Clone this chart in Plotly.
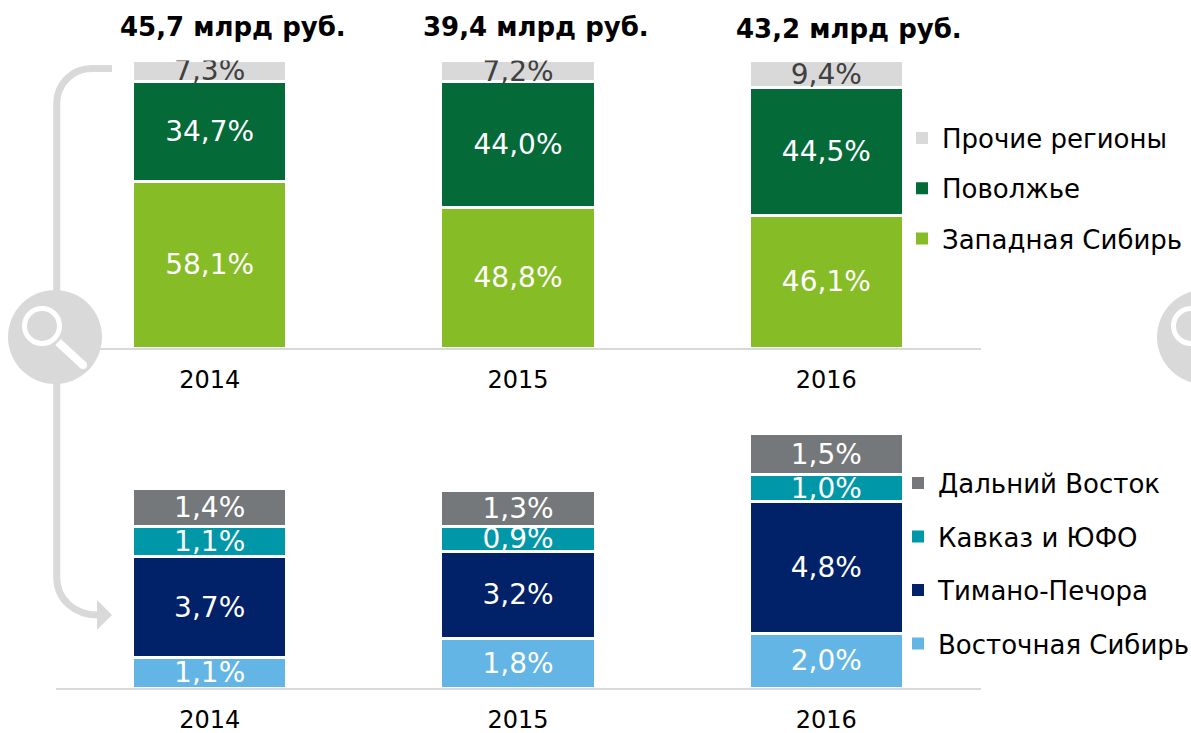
import plotly.graph_objects as go

W, H = 1191, 733
FONT = "DejaVu Sans"

years = ["2014", "2015", "2016"]
totals = ["45,7 млрд руб.", "39,4 млрд руб.", "43,2 млрд руб."]

west_siberia = [58.1, 48.8, 46.1]
volga = [34.7, 44.0, 44.5]
other_regions = [7.3, 7.2, 9.4]

east_siberia = [1.1, 1.8, 2.0]
timan_pechora = [3.7, 3.2, 4.8]
caucasus = [1.1, 0.9, 1.0]
far_east = [1.4, 1.3, 1.5]

LIGHT = "#d9d9d9"


def px(x):
    return x / W


def py(y):
    return 1 - y / H


fig = go.Figure()


def add_bar(name, values, color, yaxis, xaxis, legend, rank, textcolor="white"):
    fig.add_bar(
        x=years, y=values, name=name, xaxis=xaxis, yaxis=yaxis, legend=legend,
        legendgroup=name, showlegend=False,
        marker=dict(color=color, line=dict(color="white", width=3)),
        texttemplate="%{y:.1f}%", textposition="inside", insidetextanchor="middle",
        textangle=0, constraintext="none",
        textfont=dict(family=FONT, size=28, color=textcolor),
        hoverinfo="name+y",
    )
    # Legend entry without the white separator outline, so its swatch keeps full size
    fig.add_bar(
        x=years, y=[None] * len(years), name=name, xaxis=xaxis, yaxis=yaxis, legend=legend,
        legendgroup=name, legendrank=rank, showlegend=True,
        marker=dict(color=color, line=dict(width=0)), hoverinfo="skip",
    )


add_bar("Западная Сибирь", west_siberia, "#86bc25", "y", "x", "legend", 3)
add_bar("Поволжье", volga, "#046a38", "y", "x", "legend", 2)
add_bar("Прочие регионы", other_regions, LIGHT, "y", "x", "legend", 1, "#404040")
add_bar("Восточная Сибирь", east_siberia, "#62b5e5", "y2", "x2", "legend2", 4)
add_bar("Тимано-Печора", timan_pechora, "#012169", "y2", "x2", "legend2", 3)
add_bar("Кавказ и ЮФО", caucasus, "#0097a9", "y2", "x2", "legend2", 2)
add_bar("Дальний Восток", far_east, "#75787b", "y2", "x2", "legend2", 1)

xcommon = dict(
    type="category", range=[-0.5, 2.5], domain=[px(55.5), px(980.5)],
    showline=True, linecolor=LIGHT, linewidth=2, showgrid=False, zeroline=False,
    ticks="", ticklabelstandoff=9,
    tickfont=dict(family=FONT, size=24, color="#000000"),
)
ycommon = dict(visible=False, showgrid=False, zeroline=False)


def shape_line(x0, y0, x1, y1, width, color, layer="above"):
    return dict(type="line", xref="paper", yref="paper", x0=px(x0), y0=py(y0), x1=px(x1), y1=py(y1),
                line=dict(color=color, width=width), layer=layer)


def circle(cx, cy, r, fill, line_color=None, lw=0):
    return dict(type="circle", xref="paper", yref="paper",
                x0=px(cx - r), x1=px(cx + r), y0=py(cy + r), y1=py(cy - r),
                fillcolor=fill, line=dict(color=line_color or fill, width=lw), layer="above")


def magnifier(cx, cy):
    dx, dy = cx - 55, cy - 337
    return [
        circle(cx, cy, 47, LIGHT),
        circle(42 + dx, 326 + dy, 17.5, "rgba(0,0,0,0)", "white", 5),
        shape_line(58 + dx, 342 + dy, 83 + dx, 365 + dy, 8, "white"),
        circle(83 + dx, 365 + dy, 4, "white"),
    ]


def p(x, y):
    return f"{px(x):.5f},{py(y):.5f}"


bracket = (f"M{p(112, 68.5)} L{p(92, 68.5)} C{p(72, 68.5)} {p(56.7, 84)} {p(56.7, 104)} "
           f"L{p(56.7, 577)} C{p(56.7, 599)} {p(74, 615)} {p(98, 615)}")
arrow = f"M{p(97, 600)} L{p(112, 615)} L{p(97, 630)} Z"

shapes = [
    dict(type="path", xref="paper", yref="paper", path=bracket, line=dict(color=LIGHT, width=7), layer="above"),
    dict(type="path", xref="paper", yref="paper", path=arrow, fillcolor=LIGHT, line=dict(width=0), layer="above"),
] + magnifier(55, 337) + magnifier(1204, 337)

title_pos = [(233, 27), (536, 27), (849, 29)]
annotations = [
    dict(text=f"<b>{t}</b>", xref="paper", yref="paper", x=px(x), y=py(y), showarrow=False,
         xanchor="center", yanchor="middle", font=dict(family=FONT, size=26, color="#000000"))
    for t, (x, y) in zip(totals, title_pos)
]

legend_common = dict(
    bgcolor="rgba(0,0,0,0)", traceorder="grouped", xanchor="left", yanchor="top",
    font=dict(family=FONT, size=26, color="#000000"),
)

fig.update_layout(
    width=W, height=H, margin=dict(l=0, r=0, t=0, b=0, autoexpand=False),
    paper_bgcolor="white", plot_bgcolor="white",
    barmode="stack", bargap=0.5, separators=", ",
    font=dict(family=FONT),
    xaxis=dict(anchor="y", **xcommon),
    yaxis=dict(anchor="x", domain=[py(348), py(60.5)], range=[0, 100.1], **ycommon),
    xaxis2=dict(anchor="y2", **xcommon),
    yaxis2=dict(anchor="x2", domain=[py(688), py(433.5)], range=[0, 9.3], **ycommon),
    legend=dict(x=px(902), y=py(114.5), tracegroupgap=13.5, **legend_common),
    legend2=dict(x=px(898), y=py(459.5), tracegroupgap=16.7, **legend_common),
    shapes=shapes, annotations=annotations,
)

fig.write_html("out.html", post_script="document.body.style.margin='0';", config=dict(displayModeBar=False))
